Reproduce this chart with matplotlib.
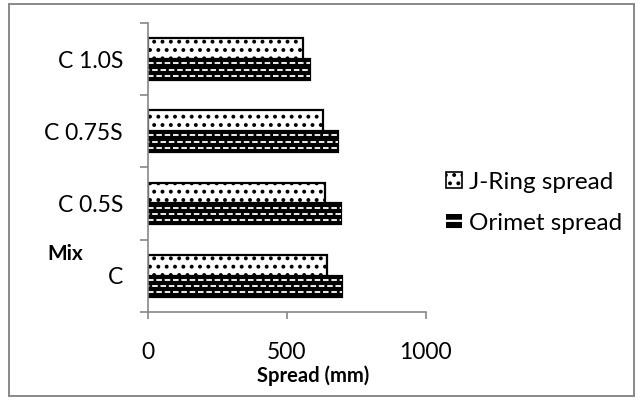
import numpy as np
import matplotlib.pyplot as plt
from matplotlib.patches import Patch, Rectangle

plt.rcParams['font.family'] = ['Lato', 'DejaVu Sans']
plt.rcParams['hatch.linewidth'] = 1.6
plt.rcParams['lines.scale_dashes'] = False

mixes = ["C", "C 0.5S", "C 0.75S", "C 1.0S"]
jring_spread = [643, 637, 631, 559]
orimet_spread = [697, 694, 684, 583]

fig = plt.figure(figsize=(6.39, 4.0), dpi=100)
ax = fig.add_axes([148/639, 1-311.7/400, (425.7-148)/639, (311.7-23)/400])

y = np.arange(len(mixes))
h = 0.29
# Orimet: black bar with rows of short white dashes
ax.barh(y - h/2, orimet_spread, height=h, color='black', linewidth=0)
for k, off in enumerate([-h/3.3, 0, h/3.3]):
    ax.hlines(y - h/2 + off, 0, orimet_spread, colors='white', linewidth=1.3,
              linestyles=[(3 * (k % 2), (4, 2))])
ax.barh(y - h/2, orimet_spread, height=h, fill=False, edgecolor='black', linewidth=1.6)
# J-Ring: white with dots
ax.barh(y + h/2, jring_spread, height=h, color='white', edgecolor='black',
        hatch='..', linewidth=1.6)

ax.set_xlim(0, 1000)
ax.set_ylim(-0.5, len(mixes) - 0.5)
ax.set_xticks([0, 500, 1000])
ax.set_yticks(y)
ax.set_yticklabels(mixes)
ax.set_yticks(np.arange(-0.5, len(mixes)), minor=True)
ax.tick_params(axis='y', which='major', length=0, labelsize=16.5, pad=18)
ax.tick_params(axis='y', which='minor', length=6, color='#888888', width=1.2)
ax.tick_params(axis='x', length=5, color='#888888', width=1.2, labelsize=16.5, pad=17)
for s in ['top', 'right']:
    ax.spines[s].set_visible(False)
for s in ['left', 'bottom']:
    ax.spines[s].set_color('#888888')
    ax.spines[s].set_linewidth(1.2)

fig.text(313/639, 1-376/400, "Spread (mm)", ha='center', va='center',
         fontsize=14.5, fontweight='bold')
fig.text(65/639, 1-254/400, "Mix", ha='center', va='center',
         fontsize=15, fontweight='bold')

handles = [Patch(facecolor='white', edgecolor='black', hatch='..', linewidth=1.2),
           Patch(facecolor='black', edgecolor='white', hatch='--', linewidth=0)]
fig.legend(handles, ["J-Ring spread", "Orimet spread"], loc='center left',
           bbox_to_anchor=(446/639, 1-203/400), frameon=False, fontsize=17.5,
           labelspacing=0.85, handlelength=0.65, handleheight=0.65,
           handletextpad=0.3, borderpad=0, borderaxespad=0)

fig.patches.append(Rectangle((9/639, 4/400), 625/639, 392/400, transform=fig.transFigure,
                             fill=False, edgecolor='#888888', linewidth=1.4))

fig.savefig("out.png", dpi=100)
